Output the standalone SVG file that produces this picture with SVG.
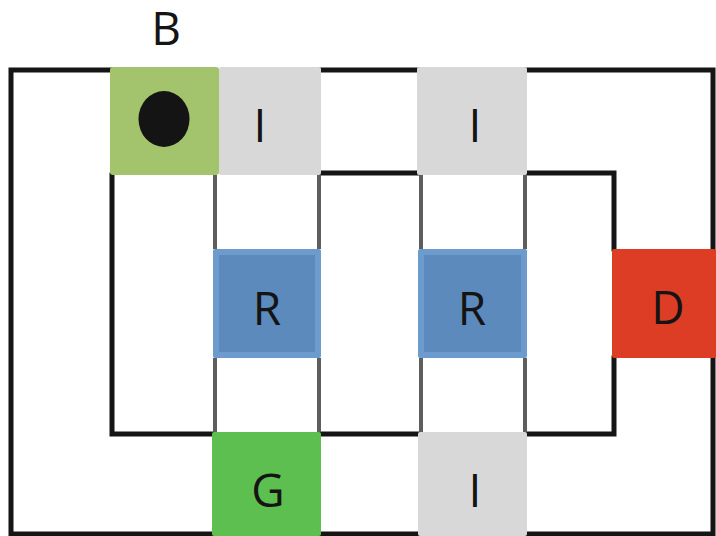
<svg xmlns="http://www.w3.org/2000/svg" width="716" height="536" viewBox="0 0 716 536">
  <style>
    .wall { fill: none; stroke: #151515; stroke-width: 5; stroke-linecap: square; stroke-linejoin: miter; }
    .rail { fill: none; stroke: #5e5e5e; stroke-width: 4; }
    .lbl { font-family: "Open Sans", "Liberation Sans", sans-serif; font-size: 46px; fill: #141414; text-anchor: middle; }
    .idle { fill: #d8d8d8; }
  </style>
  <rect width="716" height="536" fill="#ffffff"/>

  <g id="connectors">
    <!-- outer loop -->
    <path class="wall" d="M110 70 H11 V534 H213 M321 534 H418 M527 534 H713 V358 M713 249 V70 H527 M418 70 H321"/>
    <!-- inner loop -->
    <path class="wall" d="M112 175 V434 H213 M321 434 H418 M527 434 H614 V358 M614 249 V173 H527 M418 173 H321"/>
    <!-- vertical rails between rows -->
    <path class="rail" d="M215 175 V249 M215 358 V432 M319 175 V249 M319 358 V432 M421 175 V249 M421 358 V432 M525 175 V249 M525 358 V432"/>
  </g>

  <g id="label-B">
    <text class="lbl" x="166" y="45">B</text>
  </g>

  <g id="node-start">
    <rect x="110" y="67" width="109" height="108" rx="3" fill="#a3c46c"/>
    <ellipse cx="164" cy="119" rx="25.5" ry="28" fill="#141414"/>
  </g>

  <g id="node-i1">
    <rect class="idle" x="219" y="67" width="102" height="108" rx="2"/>
    <text class="lbl" x="260" y="142">I</text>
  </g>

  <g id="node-i2">
    <rect class="idle" x="417" y="67" width="110" height="108" rx="2"/>
    <text class="lbl" x="475" y="142">I</text>
  </g>

  <g id="node-r1">
    <rect x="213" y="249" width="108" height="109" rx="2" fill="#6d9bcd"/>
    <rect x="219" y="255" width="96" height="97" fill="#5d8abd"/>
    <text class="lbl" x="267" y="325">R</text>
  </g>

  <g id="node-r2">
    <rect x="418" y="249" width="109" height="109" rx="2" fill="#6d9bcd"/>
    <rect x="424" y="255" width="97" height="97" fill="#5d8abd"/>
    <text class="lbl" x="472" y="325">R</text>
  </g>

  <g id="node-d">
    <rect x="612" y="249" width="104" height="109" rx="2" fill="#dc3d24"/>
    <text class="lbl" x="668" y="324">D</text>
  </g>

  <g id="node-g">
    <rect x="212" y="432" width="109" height="104" rx="2" fill="#5dbf4f"/>
    <text class="lbl" x="268" y="507">G</text>
  </g>

  <g id="node-i3">
    <rect class="idle" x="418" y="432" width="109" height="104" rx="2"/>
    <text class="lbl" x="475" y="507">I</text>
  </g>
</svg>
